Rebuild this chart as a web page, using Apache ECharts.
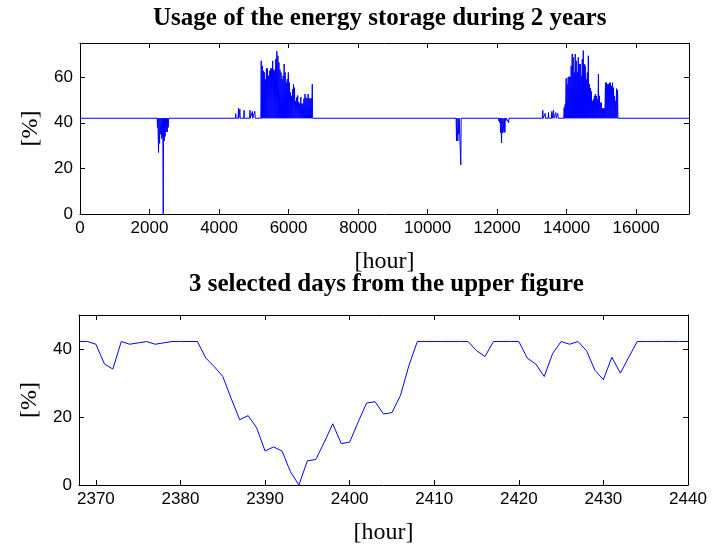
<!DOCTYPE html>
<html>
<head>
<meta charset="utf-8">
<script src="https://cdn.jsdelivr.net/npm/echarts@6/dist/echarts.min.js"></script>
<style>
    html, body { margin: 0; padding: 0; background: #fff; }
    #chart { width: 721px; height: 546px; }
</style>
</head>
<body>
<div id="chart"></div>
<script>
// 储能使用率：上图两年逐小时，下图选取的3天
const baseLevel = 42;

// 上图：基准线以外的事件（小时, 百分比）
const dipHours = [2230, 2260, 2290, 2320, 2350, 2372, 2394, 2423, 2450, 2480, 2510, 2540,
    10831, 10870, 10898, 10955,
    12052, 12081, 12100, 12129, 12158, 12196, 12225, 12254, 12331];
const dipValues = [38, 27, 31, 35, 33, 34, 0, 32, 34, 36, 36, 38,
    32, 32, 35, 21.6,
    40.8, 40, 35.6, 31.2, 35.6, 35.8, 35.8, 41, 40];

const bumpHours = [4480, 4560, 4600, 4720, 4890, 4960, 5030,
    13313, 13381, 13477, 13573, 13621, 13689, 13747];
const bumpValues = [44, 46.5, 46, 45.5, 45.5, 45, 45,
    45.5, 44.1, 44.5, 45, 45.5, 44.5, 44.1];

// 两段高使用期，每个像素列读取一个峰值
const burst1Start = 5213;
const burst1Step = 30;
const burst1Peaks = [67.2, 65, 62.8, 62.1, 59.1, 63.8, 63.8, 60.6, 62.8, 63.8,
    63.8, 67.2, 63.3, 63, 68, 71.4, 69.4, 66.5, 63.3, 62.1,
    59.1, 60.6, 65.8, 62.1, 57.7, 59.1, 62.1, 57.7, 53.3, 51.8,
    54.7, 56.9, 55.4, 49.6, 51.1, 52, 49.1, 48.4, 51.3, 48.4,
    48.4, 50.6, 52.6, 51.1, 50.6, 52.6, 50.8, 50.6, 50.8, 56.9];

const burst2Start = 13928;
const burst2Step = 29;
const burst2Peaks = [46.7, 48.1, 59.5, 56.9, 60, 60.3, 60, 65, 70.2, 68.7,
    62.1, 70.2, 67.2, 62.1, 68.7, 65.8, 65.8, 60.6, 67.9, 71.7,
    65.8, 65, 59.1, 62, 69.4, 56.9, 55.2, 53.8, 49.6, 50.3,
    51.8, 52.6, 51.8, 50.3, 61.4, 51.8, 48.8, 48.8, 46.3, 46.3,
    46.3, 57.6, 57.6, 56.9, 56.9, 57.6, 57.6, 56.2, 57.6, 55.4,
    51.8, 49.6, 55, 54.3];

const topHourTicks = [0, 2000, 4000, 6000, 8000, 10000, 12000, 14000, 16000];
const topPctTicks = [0, 20, 40, 60];

// 下图：选取的3天
const dayHours = [2368, 2369, 2370, 2371, 2372, 2373, 2374, 2375, 2376, 2377,
    2378, 2379, 2380, 2381, 2382, 2383, 2384, 2385, 2386, 2387,
    2388, 2389, 2390, 2391, 2392, 2393, 2394, 2395, 2396, 2397,
    2398, 2399, 2400, 2401, 2402, 2403, 2404, 2405, 2406, 2407,
    2408, 2409, 2410, 2411, 2412, 2413, 2414, 2415, 2416, 2417,
    2418, 2419, 2420, 2421, 2422, 2423, 2424, 2425, 2426, 2427,
    2428, 2429, 2430, 2431, 2432, 2433, 2434, 2435, 2436, 2437,
    2438, 2439, 2440];
const dayValues = [42.2, 42.2, 41.4, 35.6, 34.1, 42.2, 41.4, 41.8, 42.2, 41.4,
    41.8, 42.2, 42.2, 42.2, 42.2, 37.3, 34.8, 31.9, 25.4, 19.2,
    20.4, 16.8, 10, 11.2, 10, 3.9, 0, 7.1, 7.5, 12.6,
    18, 12.2, 12.6, 18.5, 24.1, 24.5, 20.9, 21.3, 26.3, 35.1,
    42.2, 42.2, 42.2, 42.2, 42.2, 42.2, 42.2, 39.5, 37.8, 42.2,
    42.2, 42.2, 42.2, 37.3, 35.6, 31.9, 38.7, 42.2, 41.4, 42.2,
    39.5, 33.7, 31, 37.6, 32.9, 37.6, 42.2, 42.2, 42.2, 42.2,
    42.2, 42.2, 42.2];
const dayHourTicks = [2370, 2380, 2390, 2400, 2410, 2420, 2430, 2440];
const dayPctTicks = [0, 20, 40];

// 组装上图折线：每个事件从基准线出发再回到基准线
function buildTopLine() {
    const events = [];
    dipHours.forEach((h, i) => events.push([h, dipValues[i]]));
    bumpHours.forEach((h, i) => events.push([h, bumpValues[i]]));
    burst1Peaks.forEach((v, i) => events.push([burst1Start + i * burst1Step, v]));
    burst2Peaks.forEach((v, i) => events.push([burst2Start + i * burst2Step, v]));
    events.sort((a, b) => a[0] - b[0]);

    const data = [[0, baseLevel]];
    events.forEach(([h, v]) => {
        data.push([h - 10, baseLevel]);
        data.push([h, v]);
        data.push([h + 10, baseLevel]);
    });
    data.push([17520, baseLevel]);
    return data;
}

const labelFont = { fontFamily: 'Liberation Sans', fontSize: 17, color: '#000' };
const nameFont = { fontFamily: 'Liberation Serif', fontSize: 24, color: '#000' };
const frameLine = { show: true, onZero: false, lineStyle: { color: '#000', width: 1 } };
const plainNum = v => String(v);

function xAxes(gridIndex, min, max, ticks) {
    return [
        {
            type: 'value', gridIndex, min, max, position: 'bottom',
            name: '[hour]', nameLocation: 'middle', nameGap: 36, nameTextStyle: nameFont,
            axisLine: frameLine,
            axisTick: { inside: true, length: 5, customValues: ticks, lineStyle: { color: '#000' } },
            axisLabel: Object.assign({ customValues: ticks, margin: 6, formatter: plainNum }, labelFont),
            splitLine: { show: false }
        },
        {
            type: 'value', gridIndex, min, max, position: 'top',
            axisLine: frameLine,
            axisTick: { inside: true, length: 5, customValues: ticks, lineStyle: { color: '#000' } },
            axisLabel: { show: false },
            splitLine: { show: false }
        }
    ];
}

function yAxes(gridIndex, min, max, ticks) {
    return [
        {
            type: 'value', gridIndex, min, max, position: 'left',
            name: '[%]', nameLocation: 'middle', nameGap: 29, nameTextStyle: nameFont,
            axisLine: frameLine,
            axisTick: { inside: true, length: 5, customValues: ticks, lineStyle: { color: '#000' } },
            axisLabel: Object.assign({ customValues: ticks, margin: 7, formatter: plainNum }, labelFont),
            splitLine: { show: false }
        },
        {
            type: 'value', gridIndex, min, max, position: 'right',
            axisLine: frameLine,
            axisTick: { inside: true, length: 5, customValues: ticks, lineStyle: { color: '#000' } },
            axisLabel: { show: false },
            splitLine: { show: false }
        }
    ];
}

const chart = echarts.init(document.getElementById('chart'));
chart.setOption({
    animation: false,
    backgroundColor: '#fff',
    graphic: [
        {
            type: 'text', left: 153, top: 6,
            style: { text: 'Usage of the energy storage during 2 years', font: 'bold 25px "Liberation Serif"', fill: '#000' }
        },
        {
            type: 'text', left: 189, top: 272,
            style: { text: '3 selected days from the upper figure', font: 'bold 25px "Liberation Serif"', fill: '#000' }
        }
    ],
    grid: [
        { left: 80, right: 32, top: 43, bottom: 332 },
        { left: 79, right: 33, top: 315, bottom: 60 }
    ],
    xAxis: xAxes(0, 0, 17520, topHourTicks).concat(xAxes(1, 2368, 2440, dayHourTicks)),
    yAxis: yAxes(0, 0, 75, topPctTicks).concat(yAxes(1, 0, 50, dayPctTicks)),
    series: [
        {
            type: 'line', xAxisIndex: 0, yAxisIndex: 0,
            data: buildTopLine(),
            showSymbol: false,
            lineStyle: { color: '#0000ff', width: 1 }
        },
        {
            type: 'line', xAxisIndex: 2, yAxisIndex: 2,
            data: dayHours.map((h, i) => [h, dayValues[i]]),
            showSymbol: false,
            lineStyle: { color: '#0000ff', width: 1 }
        }
    ]
});
</script>
</body>
</html>
